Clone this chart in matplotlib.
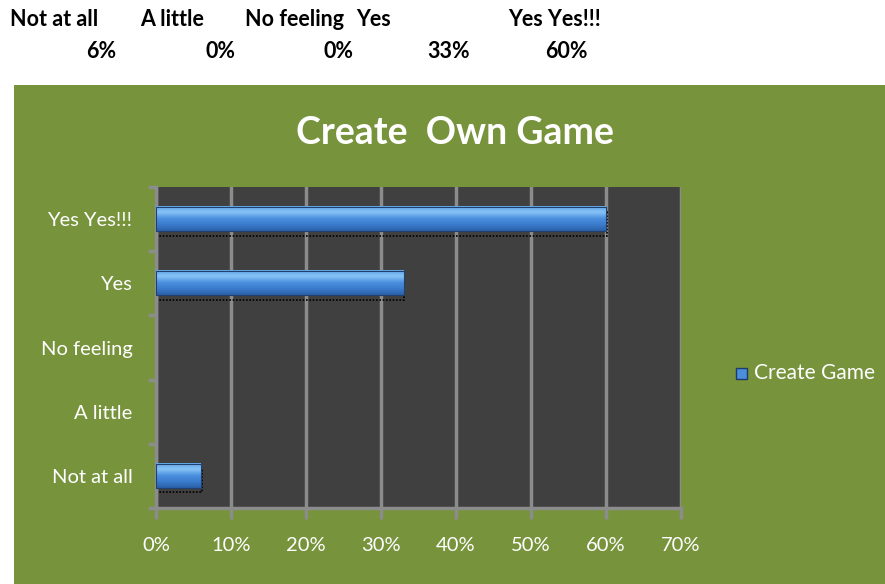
import matplotlib
matplotlib.use("Agg")
import matplotlib.pyplot as plt
import numpy as np
from matplotlib.patches import Rectangle
from matplotlib.colors import LinearSegmentedColormap

categories = ["Not at all", "A little", "No feeling", "Yes", "Yes Yes!!!"]
values = [6, 0, 0, 33, 60]
header_labels = ["Not at all", "A little", "No feeling", "Yes", "Yes Yes!!!"]
header_values = ["6%", "0%", "0%", "33%", "60%"]
xticks = [0, 10, 20, 30, 40, 50, 60, 70]
title = "Create  Own Game"
series_name = "Create Game"

plt.rcParams['font.family'] = ['Lato', 'DejaVu Sans']

W, H = 885, 584
fig = plt.figure(figsize=(W / 100, H / 100), dpi=100)
fig.patch.set_facecolor('white')

green = '#77933c'
fig.add_artist(Rectangle((14 / W, 0), 1, (H - 85) / H, transform=fig.transFigure,
                         facecolor=green, edgecolor='none', zorder=0))

# header text (spreadsheet cells above the chart)
label_x = [10, 140, 245, 356, 508]
value_x = [116, 235, 353, 470, 588]
for lx, t in zip(label_x, header_labels):
    fig.text(lx / W, 1 - 20 / H, t, ha='left', va='center', fontsize=15.5,
             fontweight='bold', color='black')
for vx, t in zip(value_x, header_values):
    fig.text(vx / W, 1 - 52 / H, t, ha='right', va='center', fontsize=15.5,
             fontweight='bold', color='black')

ax = fig.add_axes([156 / W, 1 - 508 / H, (681 - 156) / W, (508 - 187) / H])
ax.set_facecolor('#404040')

y = np.arange(len(categories))
h = 0.375
grad = np.linspace(0, 1, 64).reshape(-1, 1)
cmap = LinearSegmentedColormap.from_list('bev', ['#2a60a8', '#3b7bcc', '#4a8ede', '#85c2f5', '#64a8ea'])
for yi, v in zip(y, values):
    if v <= 0:
        continue
    ax.add_patch(Rectangle((0, yi - h / 2 - 0.07), v + 0.1, h, fill=False,
                           edgecolor='black', linestyle=(0, (1, 1)), linewidth=1.2, zorder=2))
    ax.imshow(grad, extent=(0, v, yi - h / 2, yi + h / 2), aspect='auto',
              cmap=cmap, origin='lower', zorder=3, interpolation='bilinear')
    ax.add_patch(Rectangle((0, yi - h / 2), v, h, fill=False,
                           edgecolor='#22406e', linewidth=0.8, zorder=4))

ax.set_xlim(0, 70)
ax.set_ylim(-0.5, len(categories) - 0.5)
ax.set_xticks(xticks)
ax.set_xticklabels([f"{t}%" for t in xticks], color='white', fontsize=14.5)
ax.set_yticks(y)
ax.set_yticklabels(categories, color='white', fontsize=14.5)
ax.set_yticks(np.arange(len(categories) + 1) - 0.5, minor=True)
ax.tick_params(axis='y', which='major', length=0, pad=17)
ax.tick_params(axis='y', which='minor', length=6, width=2.5, color='#8c8c8c', direction='out')
ax.tick_params(axis='x', length=8, width=2.5, color='#8c8c8c', direction='out', pad=13)
ax.grid(axis='x', color='#8c8c8c', linewidth=2.5, zorder=1)
ax.set_axisbelow(True)
for s in ['top', 'right']:
    ax.spines[s].set_visible(False)
for s in ['left', 'bottom']:
    ax.spines[s].set_color('#8c8c8c')
    ax.spines[s].set_linewidth(2.5)

fig.text(455 / W, 1 - 133 / H, title, ha='center', va='center', fontsize=27,
         fontweight='bold', color='white')

# legend
fig.add_artist(Rectangle((736 / W, 1 - 379 / H), 11 / W, 11 / H, transform=fig.transFigure,
                         facecolor='#4a8ede', edgecolor='#1f3a66', linewidth=1))
fig.text(754 / W, 1 - 373 / H, series_name, ha='left', va='center', fontsize=15, color='white')

fig.savefig('out.png', dpi=100)
